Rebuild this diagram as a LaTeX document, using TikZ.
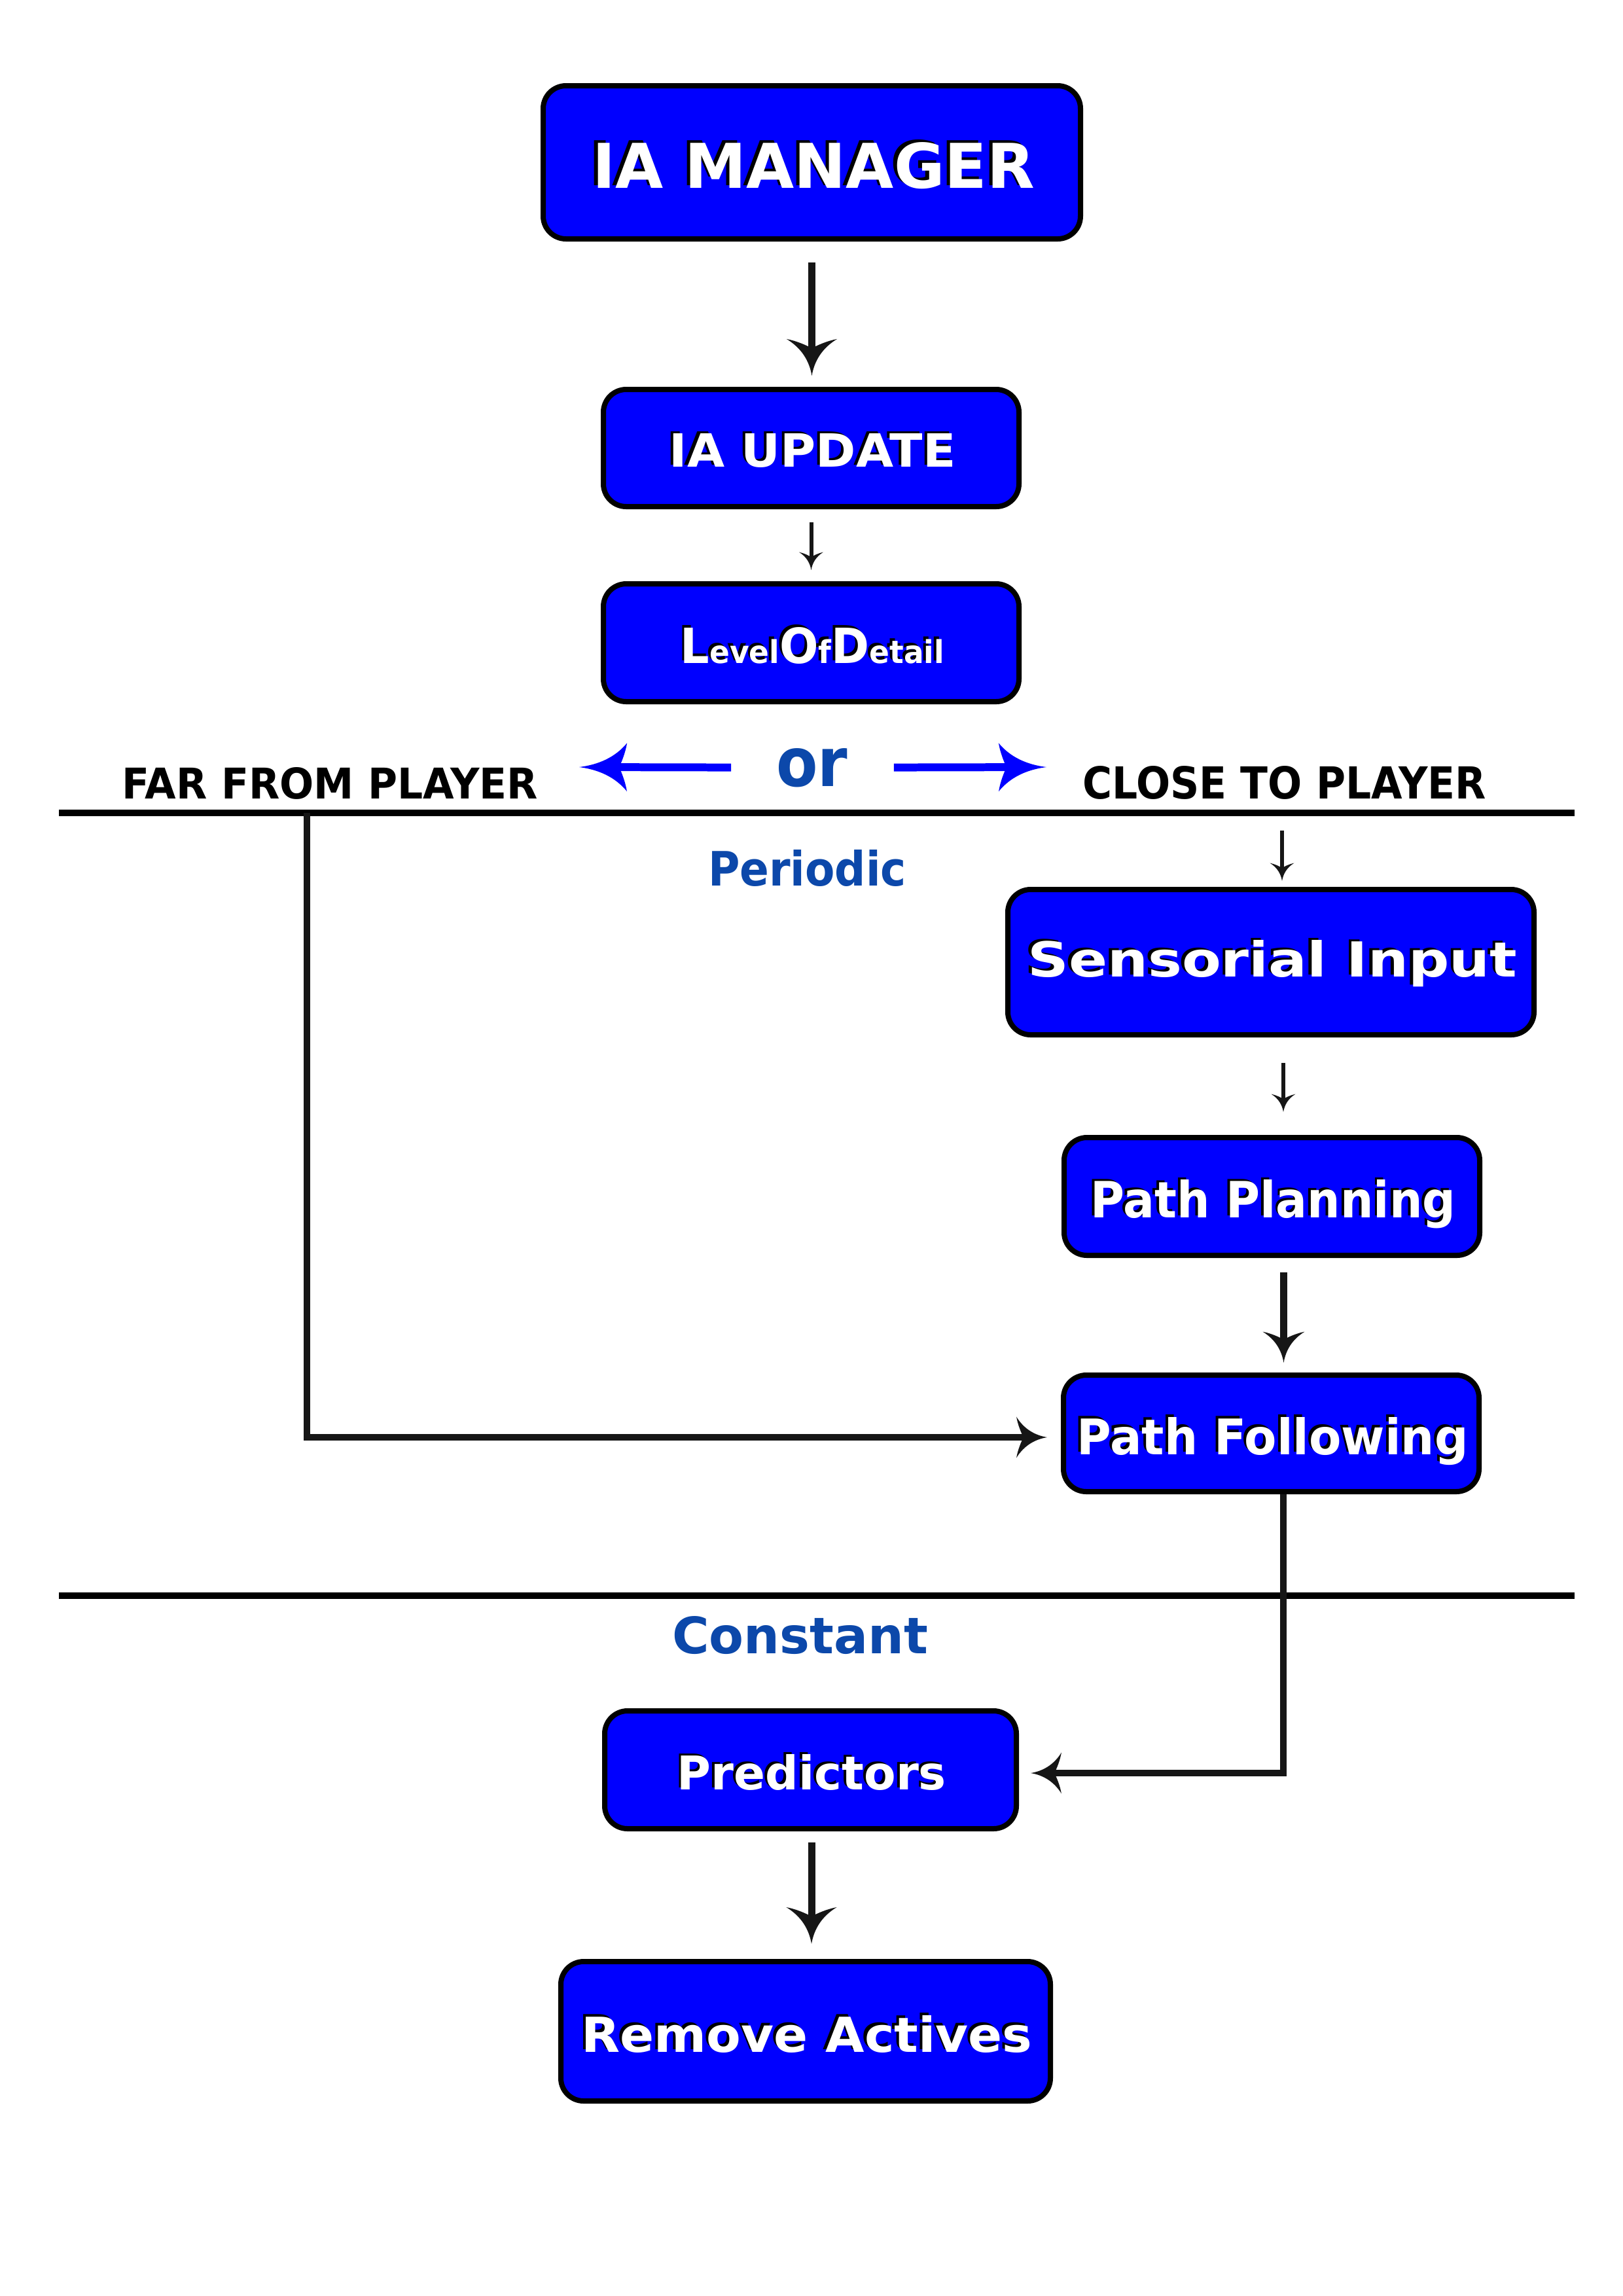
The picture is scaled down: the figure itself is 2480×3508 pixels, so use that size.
\documentclass[tikz,border=0pt]{standalone}
\usepackage{fontspec}
\setmainfont{DejaVu Sans}
\usepackage{graphicx}
\usetikzlibrary{arrows.meta}
\newdimen\pxu \pxu=0.24093pt
\definecolor{boxblue}{RGB}{0,0,255}
\definecolor{lblblue}{RGB}{12,72,170}
\definecolor{linegray}{RGB}{22,22,22}
\makeatletter
\pgfdeclarearrow{
  name = Swept,
  defaults = { length = 12pt, width = 16pt, inset = 3pt },
  parameters = { \the\pgfarrowlength,\the\pgfarrowwidth,\the\pgfarrowinset },
  setup code = {
    \pgfarrowssettipend{0pt}
    \pgfarrowssetbackend{-\pgfarrowlength}
    \pgfarrowssetlineend{-0.5\pgfarrowlength}
    \pgfarrowssavethe\pgfarrowlength
    \pgfarrowssavethe\pgfarrowwidth
    \pgfarrowssavethe\pgfarrowinset
  },
  drawing code = {
    \pgfpathmoveto{\pgfpointorigin}
    \pgfpathcurveto{\pgfpoint{-0.4*\pgfarrowlength}{0.05*\pgfarrowwidth}}{\pgfpoint{-0.75*\pgfarrowlength}{0.2*\pgfarrowwidth}}{\pgfpoint{-\pgfarrowlength}{0.5*\pgfarrowwidth}}
    \pgfpathcurveto{\pgfpoint{-\pgfarrowlength+0.2*\pgfarrowinset}{0.3*\pgfarrowwidth}}{\pgfpoint{-\pgfarrowlength+0.7*\pgfarrowinset}{0.1*\pgfarrowwidth}}{\pgfpoint{-\pgfarrowlength+\pgfarrowinset}{0pt}}
    \pgfpathcurveto{\pgfpoint{-\pgfarrowlength+0.7*\pgfarrowinset}{-0.1*\pgfarrowwidth}}{\pgfpoint{-\pgfarrowlength+0.2*\pgfarrowinset}{-0.3*\pgfarrowwidth}}{\pgfpoint{-\pgfarrowlength}{-0.5*\pgfarrowwidth}}
    \pgfpathcurveto{\pgfpoint{-0.75*\pgfarrowlength}{-0.2*\pgfarrowwidth}}{\pgfpoint{-0.4*\pgfarrowlength}{-0.05*\pgfarrowwidth}}{\pgfpointorigin}
    \pgfpathclose
    \pgfusepathqfill
  }
}
\makeatother
\newcommand\shadowed[1]{\mbox{\rlap{\color{black}#1}\kern0.055em\raisebox{-0.05em}{\color{white}#1}}}
\newcommand\shtxt[3]{\resizebox{#1\pxu}{#2\pxu}{\fontsize{20}{24}\selectfont\shadowed{#3}}}
\newcommand\lbltxt[3]{\resizebox{#1\pxu}{#2\pxu}{\fontsize{20}{24}\selectfont #3}}
\newcommand\lodtext{{\fontsize{20}{20}\selectfont L}{\fontsize{13}{13}\selectfont evel}{\fontsize{20}{20}\selectfont O}{\fontsize{13}{13}\selectfont f}{\fontsize{20}{20}\selectfont D}{\fontsize{13}{13}\selectfont etail}}
\begin{document}
\begin{tikzpicture}[x=0.24093pt,y=-0.24093pt,
  box/.style={draw=black, fill=boxblue, line width=1.93pt, rounded corners=8.4pt,
    inner sep=0pt, text depth=0pt, font=\bfseries},
  lbl/.style={inner sep=0pt, anchor=base, font=\bfseries},
  thickA/.style={draw=linegray, line width=2.65pt, -{Swept[length=13.5pt,width=18.6pt,inset=3.4pt]}},
  thickB/.style={draw=linegray, line width=2.65pt, -{Swept[length=11.4pt,width=15.4pt,inset=2.9pt]}},
  thinarr/.style={draw=linegray, line width=1.45pt, -{Swept[length=6.6pt,width=8.9pt,inset=1.8pt]}},
  medarr/.style={draw=linegray, line width=2.29pt, -{Swept[length=11.3pt,width=15.1pt,inset=2.6pt]}},
  bluearr/.style={draw=boxblue, line width=2.89pt, -{Swept[length=17.6pt,width=17.8pt,inset=2.9pt]}},
  sepline/.style={draw=black, line width=2.41pt}
]
\path[fill=white, use as bounding box] (0,0) rectangle (2480,3508);

% boxes
\node[box, minimum width=821*\pxu, minimum height=234*\pxu] (iam) at (1240.5,248) {\shtxt{681}{70}{IA MANAGER}};
\node[box, minimum width=635*\pxu, minimum height=179*\pxu] (iau) at (1239.5,684.5) {\shtxt{442}{51}{IA UPDATE}};
\node[box, minimum width=635*\pxu, minimum height=180*\pxu] (lod) at (1239.5,982) {\shtxt{407}{55}{\lodtext}};
\node[box, minimum width=804*\pxu, minimum height=222*\pxu, text depth=18*\pxu] (sens) at (1942,1470) {\shtxt{753}{56}{Sensorial Input}};
\node[box, minimum width=635*\pxu, minimum height=180*\pxu] (pp) at (1943.5,1828) {\shtxt{562}{58}{Path Planning}};
\node[box, minimum width=635*\pxu, minimum height=178*\pxu] (pf) at (1942.5,2190) {\shtxt{602}{57}{Path Following}};
\node[box, minimum width=629*\pxu, minimum height=180*\pxu] (pred) at (1238.5,2704) {\shtxt{415}{54}{Predictors}};
\node[box, minimum width=748*\pxu, minimum height=213*\pxu] (ra) at (1231,3103.5) {\shtxt{693}{56}{Remove Actives}};

% labels
\node[lbl] (far) at (504.5,1220) {\lbltxt{635}{48}{FAR FROM PLAYER}};
\node[lbl] (close) at (1962.5,1220) {\lbltxt{617}{50}{CLOSE TO PLAYER}};
\node[lbl, text=lblblue] (orlbl) at (1240.5,1201) {\lbltxt{109}{58}{or}};
\node[lbl, text=lblblue] (periodic) at (1233.5,1353) {\lbltxt{303}{55}{Periodic}};
\node[lbl, text=lblblue] (constant) at (1222.5,2526) {\lbltxt{391}{57}{Constant}};

% coordinates
\coordinate (farTip) at (885,1172);
\coordinate (closeTip) at (1599,1172);
\coordinate (s1l) at (90,1242);
\coordinate (s1r) at (2406,1242);
\coordinate (s2l) at (90,2438);
\coordinate (s2r) at (2406,2438);
\coordinate (farTop) at (469,1242);
\coordinate (sensIn) at (1959,1269);

% separator lines
\draw[sepline] (s1l) -- (s1r);
\draw[sepline] (s2l) -- (s2r);

% connectors
\draw[thickA, shorten <=32*\pxu, shorten >=17*\pxu] (iam.south) -- (iam.south |- iau.north);
\draw[thinarr, shorten <=20*\pxu, shorten >=17*\pxu] (iau.south) -- (iau.south |- lod.north);
\draw[bluearr, shorten <=68*\pxu] (orlbl.west) -- (farTip);
\draw[bluearr, shorten <=70*\pxu] (orlbl.east) -- (closeTip);
\draw[medarr, shorten >=21*\pxu] (farTop) |- ([yshift=-6*\pxu]pf.west);
\draw[thinarr, shorten >=9*\pxu] (sensIn) -- (sensIn |- sens.north);
\draw[thinarr, shorten <=39*\pxu, shorten >=35*\pxu] ([xshift=19*\pxu]sens.south) -- ([xshift=19*\pxu]sens.south |- pp.north);
\draw[thickB, shorten <=22*\pxu, shorten >=15*\pxu] ([xshift=18*\pxu]pp.south) -- ([xshift=18*\pxu]pp.south |- pf.north);
\draw[medarr, shorten >=18*\pxu] ([xshift=18.5*\pxu]pf.south) |- ([yshift=-5*\pxu]pred.east);
\draw[thickA, shorten <=17*\pxu, shorten >=23*\pxu] ([xshift=1.5*\pxu]pred.south) -- ([xshift=1.5*\pxu]pred.south |- ra.north);
\end{tikzpicture}
\end{document}
